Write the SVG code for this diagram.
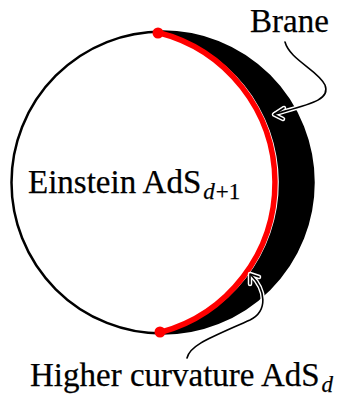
<svg xmlns="http://www.w3.org/2000/svg" width="354" height="396" viewBox="0 0 354 396">
<style>
.lbl{font-family:"Liberation Serif","Times New Roman",serif;font-size:33px;fill:#000;stroke:#000;stroke-width:0.25}
.sub{font-size:23px}
.it{font-style:italic}
.halo{fill:none;stroke:#fff;stroke-width:4.5;stroke-linecap:round;stroke-linejoin:round}
.line{fill:none;stroke:#000;stroke-width:1.6;stroke-linecap:round;stroke-linejoin:round}
</style>
<rect width="354" height="396" fill="#fff"/>
<g id="bulk">
<circle cx="162.5" cy="182.5" r="151" fill="#fff" stroke="#000" stroke-width="2.5"/>
</g>
<g id="higher-curvature-region">
<path d="M158,31.6 A155,155 0 0 1 160,333.5 A151,151 0 1 0 158,31.6 Z" fill="#000"/>
</g>
<g id="brane">
<path d="M158,32.5 A155,155 0 0 1 160,332.5" fill="none" stroke="#f00" stroke-width="5.5"/>
<circle cx="158" cy="33" r="5.5" fill="#f00"/>
<circle cx="160" cy="332" r="5.5" fill="#f00"/>
</g>
<g id="connectors">
<path class="halo" d="M285,42 C290,60 318,70 325,85 C331,100 310,104 275,114"/>
<path class="halo" d="M284,108 L274,114.5 L283,119"/>
<path class="halo" d="M187,358 C190,345 210,338 250,320 C268,311 266,290 251,275"/>
<path class="halo" d="M250,284 L250,274 L259,277"/>
<path class="line" d="M285,42 C290,60 318,70 325,85 C331,100 310,104 275,114"/>
<path class="line" d="M284,108 L274,114.5 L283,119"/>
<path class="line" d="M187,358 C190,345 210,338 250,320 C268,311 266,290 251,275"/>
<path class="line" d="M250,284 L250,274 L259,277"/>
</g>
<g id="labels">
<text class="lbl" x="250" y="32">Brane</text>
<text class="lbl" x="28" y="193">Einstein AdS<tspan class="sub it" dx="2" dy="6">d</tspan><tspan class="sub" dx="1">+1</tspan></text>
<text class="lbl" x="30" y="386">Higher curvature AdS<tspan class="sub it" dx="2" dy="6">d</tspan></text>
</g>
</svg>
